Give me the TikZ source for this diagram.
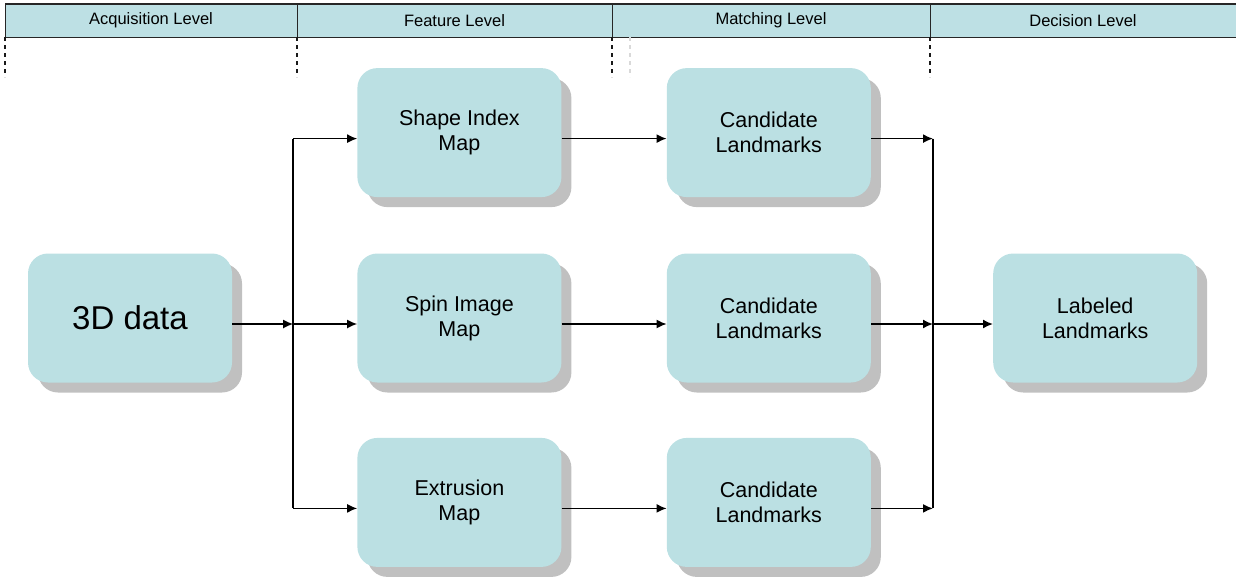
\documentclass[tikz,border=0pt]{standalone}
\usepackage{fontspec}
\setmainfont{Liberation Sans}
\usetikzlibrary{arrows.meta,positioning,shadows}
\definecolor{lmteal}{RGB}{187,224,227}
\definecolor{lmshadow}{RGB}{192,192,192}
\definecolor{lmhead}{RGB}{189,224,228}

\begin{document}
\begin{tikzpicture}[
  x=1pt, y=1pt,
  lvlcell/.style={draw=black!85, fill=lmhead, line width=0.9pt, outer sep=0pt, inner sep=0pt, minimum height=33pt, font=\fontsize{16.5}{19}\selectfont},
  box/.style={fill=lmteal, rounded corners=20pt, align=center, minimum width=204pt, minimum height=129pt, font=\fontsize{21.5}{25}\selectfont, general shadow={fill=lmshadow, shadow xshift=10pt, shadow yshift=-10pt}},
  arrow/.style={-{Latex[length=10pt,width=9pt]}, line width=1.6pt},
  link/.style={line width=1.6pt},
  lanesep/.style={draw=black!90, line width=1.2pt, dash pattern=on 4pt off 4pt}
]
  \useasboundingbox (0,0) rectangle (1236,-579);

  \node[lvlcell, minimum width=292pt, anchor=north west] (acq) at (5,-4) {Acquisition Level};
  \node[lvlcell, minimum width=315pt, right=0pt of acq] (feat) {Feature Level};
  \node[lvlcell, minimum width=318pt, right=0pt of feat] (match) {Matching Level};
  \node[lvlcell, minimum width=306pt, right=0pt of match] (dec) {Decision Level};
  \draw[line width=1.8pt, black!85] (acq.north west) -- (dec.north east);
  \foreach \p in {acq.south west, acq.south east, feat.south east, match.south east}
    \draw[lanesep] (\p) -- ++(0,-40);
  \draw[lanesep, draw=black!15] ([xshift=18pt]feat.south east) -- ++(0,-40);

  \node[box, font=\fontsize{33}{38}\selectfont] (data) at (130,-318) {3D data};
  \node[box, right=125pt of data] (spin) {Spin Image\\Map};
  \node[box, above=56pt of spin] (shape) {Shape Index\\Map};
  \node[box, below=55pt of spin] (extr) {Extrusion\\Map};
  \node[box, right=105pt of shape] (cand1) {Candidate\\Landmarks};
  \node[box, right=105pt of spin] (cand2) {Candidate\\Landmarks};
  \node[box, right=105pt of extr] (cand3) {Candidate\\Landmarks};
  \node[box, right=122pt of cand2] (label) {Labeled\\Landmarks};

  \coordinate (split) at ([xshift=61pt,yshift=-6pt]data.east);
  \coordinate (join) at ([xshift=62pt,yshift=-6pt]cand2.east);

  \draw[arrow] ([yshift=-6pt]data.east) -- (split);
  \draw[link] ([yshift=-6pt]shape.west -| split) -- ([yshift=-6pt]extr.west -| split);
  \draw[link] ([yshift=-6pt]cand1.east -| join) -- ([yshift=-6pt]cand3.east -| join);
  \foreach \f/\c in {shape/cand1, spin/cand2, extr/cand3} {
    \draw[arrow] ([yshift=-6pt]\f.west -| split) -- ([yshift=-6pt]\f.west);
    \draw[arrow] ([yshift=-6pt]\f.east) -- ([yshift=-6pt]\c.west);
    \draw[arrow] ([yshift=-6pt]\c.east) -- ([yshift=-6pt]\c.east -| join);
  }
  \draw[arrow] (join) -- ([yshift=-6pt]label.west);
\end{tikzpicture}
\end{document}
